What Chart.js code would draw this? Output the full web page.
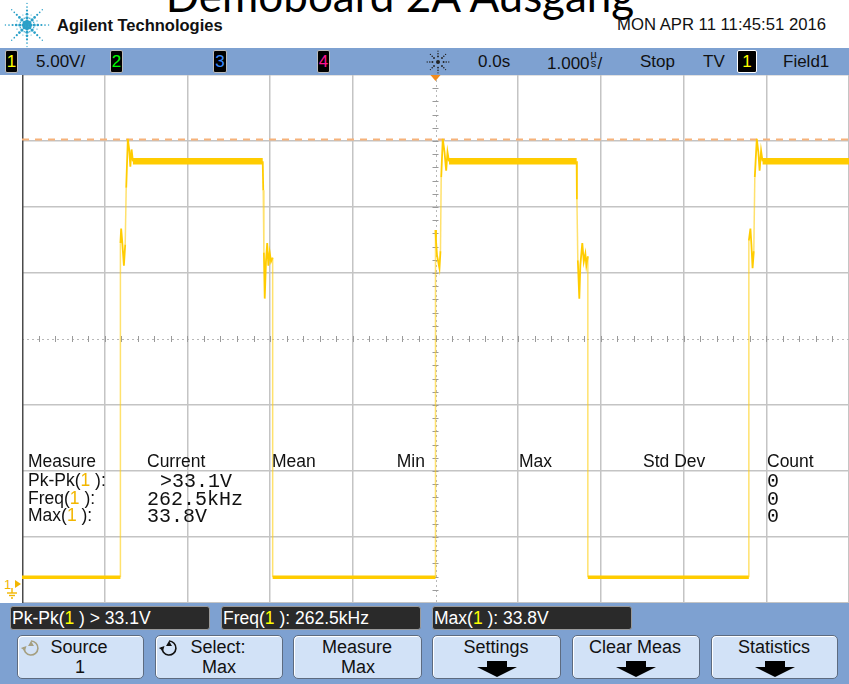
<!DOCTYPE html>
<html>
<head>
<meta charset="utf-8">
<script src="https://cdn.jsdelivr.net/npm/chart.js@4.4.1/dist/chart.umd.min.js"></script>
<style>
  html,body{margin:0;padding:0;}
  body{width:849px;height:684px;overflow:hidden;background:#fff;position:relative;font-family:'Liberation Sans',Arial,sans-serif;}
  .abs{position:absolute;}
  #plot{position:absolute;left:22px;top:75px;}
  .bar{position:absolute;left:0;width:849px;background:#7ea1d1;}
  .chbox{position:absolute;background:#000;border:1px solid #bbb;border-radius:2px;box-sizing:border-box;
         font:17px 'Liberation Sans',sans-serif;text-align:center;line-height:21px;}
  .mbox{position:absolute;top:606px;height:24px;width:200px;background:#2a2a2a;border:1px solid #9a9a9a;border-radius:3px;box-sizing:border-box;
        color:#fff;font:17.5px 'Liberation Sans',sans-serif;line-height:23px;padding-left:1px;white-space:nowrap;}
  .btn{position:absolute;top:635px;height:44px;background:#d2e2f7;border:1px solid #5d6b80;border-radius:5px;box-sizing:border-box;
       box-shadow:inset 1px 1px 0 #fff;}
</style>
</head>
<body>
<canvas id="plot" width="827" height="528"></canvas>
<script>
// ---------------- data ----------------
// channel 1 trace: time in microseconds, voltage in volts
const timeUs = [
  -5.000, -3.810, -3.810, -3.801, -3.789, -3.768, -3.752, -3.740, -3.720, -3.702, -3.690, -3.675, -3.659,
  -2.089, -2.083, -2.075, -2.065, -2.050, -2.035, -2.021, -2.005, -1.989, -1.969, -1.969,
   0.000,  0.000,  0.006,  0.018,  0.048,  0.060,  0.069,  0.088,  0.109,  0.129,  0.145,  0.163,
   1.707,  1.710,  1.721,  1.739,  1.751,  1.775,  1.793,  1.812,  1.824,  1.842,  1.842,
   3.789,  3.789,  3.808,  3.820,  3.834,  3.849,  3.861,  3.885,  3.904,  3.919,  3.937,  3.955,
   5.000
];
const voltV = [
   0.6,  0.6, 25.9, 27.0, 26.1, 24.2, 25.8, 30.1, 33.8, 32.9, 31.7, 33.0, 32.1,
  32.1, 29.9, 25.2, 21.7, 24.5, 25.9, 24.2, 25.2, 24.5, 24.8,  0.6,
   0.6, 26.9, 26.1, 25.0, 24.0, 25.3, 30.9, 33.8, 32.8, 31.4, 32.8, 32.1,
  32.1, 29.2, 24.6, 21.7, 24.2, 25.9, 24.5, 25.1, 24.2, 24.9,  0.6,
   0.6, 26.1, 27.0, 25.8, 24.0, 25.3, 30.9, 33.8, 32.8, 31.4, 32.9, 32.1,
  32.1
];
// trigger level (dashed orange line)
const trigTimeUs = [-5, 5];
const trigLevelV = [33.75, 33.75];
// graticule: 1 us/div horizontally, 5 V/div vertically (ground 3.73 div below centre)
const xGridUs = [-5, -4, -3, -2, -1, 0, 1, 2, 3, 4, 5];
const yGridV  = [-1.36, 3.64, 8.64, 13.64, 18.64, 23.64, 28.64, 33.64, 38.64];
const xCenterUs = 0;
const yCenterV = 18.64;

// measurement texts
const measHeaders = ['Measure', 'Current', 'Mean', 'Min', 'Max', 'Std Dev', 'Count'];
const measNames   = ['Pk-Pk', 'Freq', 'Max'];
const measCurrent = ['>33.1V', '262.5kHz', '33.8V'];
const measCount   = ['0', '0', '0'];
const statusTexts = ['Pk-Pk(<y>1</y> ) &gt; 33.1V', 'Freq(<y>1</y> ): 262.5kHz', 'Max(<y>1</y> ): 33.8V'];
const buttonLine1 = ['Source', 'Select:', 'Measure', 'Settings', 'Clear Meas', 'Statistics'];
const buttonLine2 = ['1', 'Max', 'Max', '', '', ''];

// ---------------- helpers ----------------
function T(html, x, y, o = {}) {
  const s = document.createElement('div');
  s.innerHTML = html;
  const tx = o.align === 'center' ? '-50%' : o.align === 'right' ? '-100%' : '0';
  s.style.cssText = `position:absolute;left:${x}px;top:${y}px;line-height:1;white-space:nowrap;` +
    `font:${o.font || "17px 'Liberation Sans',sans-serif"};color:${o.color || '#111'};` +
    `transform:translate(${tx},-50%);z-index:${o.z || 5};`;
  document.body.appendChild(s);
  return s;
}
function el(html) {
  const d = document.createElement('div');
  d.innerHTML = html;
  const n = d.firstElementChild;
  document.body.appendChild(n);
  return n;
}

// ---------------- header ----------------
el(`<div class="abs" style="left:0;width:800px;text-align:center;top:-27px;font:44px Lato,'Open Sans',sans-serif;line-height:44px;color:#000;white-space:nowrap;z-index:3">Demoboard 2A Ausgang</div>`);
T('Agilent Technologies', 57, 25, {font: "bold 16.5px 'Liberation Sans',sans-serif", color: '#111'});
T('MON APR 11 11:45:51 2016', 617, 25, {font: "16.7px 'Liberation Sans',sans-serif", color: '#111'});

// Agilent spark logo (decorative)
(function () {
  let svg = '<svg class="abs" style="left:0;top:0;z-index:4" width="56" height="52">';
  const cx = 27, cy = 25;
  for (let k = 0; k < 16; k++) {
    const a = k * Math.PI / 8;
    const main = k % 2 === 0;
    const n = main ? 6 : 3;
    for (let i = 1; i <= n; i++) {
      const r = i * 3.6;
      const rr = main ? Math.max(0.7, 2.1 - i * 0.25) : 1.0 - i * 0.15;
      svg += `<circle cx="${(cx + r * Math.cos(a)).toFixed(1)}" cy="${(cy + r * Math.sin(a)).toFixed(1)}" r="${rr.toFixed(2)}" fill="#2aa0c8"/>`;
    }
  }
  svg += `<circle cx="${cx}" cy="${cy}" r="2.2" fill="#2aa0c8"/></svg>`;
  el(svg);
})();

// ---------------- top status bar ----------------
el('<div class="bar" style="top:48px;height:27px;"></div>');
el('<div class="chbox" style="left:5px;top:50px;width:13px;height:23px;color:#ffff00">1</div>');
el('<div class="chbox" style="left:110px;top:50px;width:13px;height:23px;color:#00ff00">2</div>');
el('<div class="chbox" style="left:213px;top:50px;width:14px;height:23px;color:#3a8cff">3</div>');
el('<div class="chbox" style="left:317px;top:50px;width:13px;height:23px;color:#ff1493">4</div>');
el('<div class="chbox" style="left:737px;top:50px;width:20px;height:23px;color:#ffff00;border:1px solid #fff">1</div>');
T('5.00V/', 36, 62);
T('0.0s', 478, 62);
T('1.000<span style="font-size:11px;display:inline-block;line-height:9px;vertical-align:2px;width:8px;text-align:center">µ<br>s</span>/', 547, 62);
T('Stop', 640, 62);
T('TV', 703, 62);
T('Field1', 783, 62);
// acquisition spark icon
(function () {
  let svg = '<svg class="abs" style="left:425px;top:49px;z-index:4" width="26" height="26">';
  for (let k = 0; k < 8; k++) {
    const a = k * Math.PI / 4;
    for (let i = 1; i <= 3; i++) {
      const r = 3 + i * 2.6;
      svg += `<circle cx="${(13 + r * Math.cos(a)).toFixed(1)}" cy="${(13 + r * Math.sin(a)).toFixed(1)}" r="${(1.1 - i * 0.15).toFixed(2)}" fill="#222"/>`;
    }
  }
  svg += '<circle cx="13" cy="13" r="2" fill="#222"/></svg>';
  el(svg);
})();

// ---------------- measurement table overlay ----------------
const hdrX = [28, 147, 272, 425, 519, 643, 767];
measHeaders.forEach((h, i) => T(h, hdrX[i], 461, {font: "17.5px 'Liberation Sans',sans-serif", align: i === 3 ? 'right' : 'left'}));
const rowY = [480, 498, 515];
measNames.forEach((n, i) => T(`${n}(<span style="color:#f2b600">1</span> ):`, 28, rowY[i], {font: "17.5px 'Liberation Sans',sans-serif"}));
const curX = [160, 147, 147];
measCurrent.forEach((v, i) => T(v, curX[i], rowY[i] + 1, {font: "20px 'Liberation Mono','DejaVu Sans Mono',monospace"}));
measCount.forEach((v, i) => T(v, 767, rowY[i] + 1, {font: "20px 'Liberation Mono','DejaVu Sans Mono',monospace"}));

// ground marker
T('1', 4, 584, {font: "13px 'Liberation Sans',sans-serif", color: '#f2b600'});
el('<svg class="abs" style="left:2px;top:576px;z-index:4" width="20" height="26"><polygon points="13,4 19,8 13,12" fill="#f2b600"/><line x1="10" y1="12" x2="10" y2="17" stroke="#f2b600" stroke-width="1.4"/><line x1="5" y1="17" x2="15" y2="17" stroke="#f2b600" stroke-width="1.4"/><line x1="7" y1="19.5" x2="13" y2="19.5" stroke="#f2b600" stroke-width="1.4"/><line x1="9" y1="22" x2="11" y2="22" stroke="#f2b600" stroke-width="1.4"/></svg>');

// ---------------- bottom bar ----------------
el('<div class="bar" style="top:603px;height:81px;"></div>');
const mboxX = [10, 221, 432];
statusTexts.forEach((t, i) => el(`<div class="mbox" style="left:${mboxX[i]}px">${t.replace(/<y>/g, '<span style="color:#ffff00">').replace(/<\/y>/g, '</span>')}</div>`));
const btnX = [17, 155, 293, 432, 572, 711];
const btnW = [127, 128, 129, 129, 128, 127];
const txtCX = [79, 218, 357, 496, 635, 774];
buttonLine1.forEach((t, i) => {
  el(`<div class="btn" style="left:${btnX[i]}px;width:${btnW[i]}px"></div>`);
  T(t, txtCX[i], 647, {font: "18px 'Liberation Sans',sans-serif", align: 'center', z: 6});
  if (buttonLine2[i]) {
    T(buttonLine2[i], txtCX[i] + 1, 667, {font: "18px 'Liberation Sans',sans-serif", align: 'center', z: 6});
  } else {
    const cx = txtCX[i] + 1;
    el(`<svg class="abs" style="left:${cx - 21}px;top:660px;z-index:6" width="42" height="18"><polygon points="11,1 31,1 31,7 41,7 21,17 1,7 11,7" fill="#000"/></svg>`);
  }
});
// knob icons on Source / Select
function knob(x, color) {
  el(`<svg class="abs" style="left:${x}px;top:638px;z-index:6" width="22" height="20"><path d="M4 9 A7 7 0 1 0 11 3" fill="none" stroke="${color}" stroke-width="1.6"/><polygon points="1,9 7,9 4,13" fill="${color}" transform="rotate(-20 4 10)"/><polygon points="8,8 14,8 11,3" fill="${color}"/></svg>`);
}
knob(20, '#a59f80');
knob(158, '#111');

// ---------------- chart ----------------
const tracePts = timeUs.map((t, i) => ({x: t, y: voltV[i]}));
const trigPts = trigTimeUs.map((t, i) => ({x: t, y: trigLevelV[i]}));

const BRIGHT = '#ffcc00';
const EDGE = 'rgba(255,206,20,0.62)';
function segKind(ctx) {
  const a = ctx.p0.parsed, b = ctx.p1.parsed;
  if (a.y === b.y && a.y > 30) return 'plateau';
  if (a.y === b.y && a.y < 2) return 'low';
  if (Math.abs(b.y - a.y) > 4) return 'edge';
  return 'ring';
}

const decor = {
  id: 'decor',
  beforeDatasetsDraw(chart) {
    const {ctx, chartArea: ca, scales: {x, y}} = chart;
    const xc = x.getPixelForValue(xCenterUs), yc = y.getPixelForValue(yCenterV);
    ctx.save();
    ctx.strokeStyle = '#b8b8b8';
    ctx.lineWidth = 1;
    ctx.setLineDash([2, 3]);
    ctx.beginPath();
    ctx.moveTo(ca.left, Math.round(yc) + 0.5); ctx.lineTo(ca.right, Math.round(yc) + 0.5);
    ctx.moveTo(Math.round(xc) + 0.5, ca.top); ctx.lineTo(Math.round(xc) + 0.5, ca.bottom);
    ctx.stroke();
    ctx.setLineDash([]);
    ctx.strokeStyle = '#9a9a9a';
    ctx.beginPath();
    for (let v = xGridUs[0]; v <= xGridUs[xGridUs.length - 1] + 1e-9; v += 0.2) {
      const px = Math.round(x.getPixelForValue(v)) + 0.5;
      ctx.moveTo(px, yc - 3); ctx.lineTo(px, yc + 3);
    }
    for (let v = yGridV[0]; v <= yGridV[yGridV.length - 1] + 1e-9; v += 1) {
      const py = Math.round(y.getPixelForValue(v)) + 0.5;
      ctx.moveTo(xc - 3, py); ctx.lineTo(xc + 3, py);
    }
    ctx.stroke();
    ctx.strokeStyle = '#4a4a4a';
    ctx.lineWidth = 1.5;
    ctx.beginPath();
    ctx.moveTo(ca.left + 0.75, ca.top); ctx.lineTo(ca.left + 0.75, ca.bottom);
    ctx.stroke();
    ctx.restore();
  },
  afterDraw(chart) {
    const {ctx, chartArea: ca, scales: {x}} = chart;
    const xt = x.getPixelForValue(0);
    ctx.save();
    ctx.fillStyle = '#f28c1e';
    ctx.beginPath();
    ctx.moveTo(xt - 5, ca.top); ctx.lineTo(xt + 5, ca.top); ctx.lineTo(xt, ca.top + 6);
    ctx.closePath(); ctx.fill();
    ctx.restore();
  }
};

new Chart(document.getElementById('plot'), {
  type: 'line',
  data: {
    datasets: [
      {
        label: 'CH1',
        data: tracePts,
        order: 0,
        borderColor: BRIGHT,
        borderWidth: 2,
        pointRadius: 0,
        tension: 0,
        borderJoinStyle: 'miter',
        borderCapStyle: 'butt',
        segment: {
          borderWidth: ctx => ({plateau: 6.5, low: 3.5, edge: 1.5, ring: 1.8})[segKind(ctx)],
          borderColor: ctx => segKind(ctx) === 'edge' ? EDGE : BRIGHT
        }
      },
      {
        label: 'Trigger level',
        data: trigPts,
        order: 1,
        borderColor: '#f6b27a',
        borderWidth: 2,
        borderDash: [7, 6],
        pointRadius: 0
      }
    ]
  },
  options: {
    responsive: false,
    animation: false,
    events: [],
    layout: {padding: 0},
    plugins: {legend: {display: false}, tooltip: {enabled: false}, title: {display: false}},
    scales: {
      x: {
        type: 'linear', min: xGridUs[0], max: xGridUs[xGridUs.length - 1],
        afterBuildTicks: s => { s.ticks = xGridUs.map(v => ({value: v})); },
        ticks: {display: false},
        border: {display: false},
        grid: {
          drawTicks: false, lineWidth: 1.5,
          color: c => (c.tick && Math.abs(c.tick.value - xCenterUs) < 1e-6) || c.index === 0 ? 'rgba(0,0,0,0)' : '#c4c4c4'
        }
      },
      y: {
        type: 'linear', min: yGridV[0], max: yGridV[yGridV.length - 1],
        afterBuildTicks: s => { s.ticks = yGridV.map(v => ({value: v})); },
        ticks: {display: false},
        border: {display: false},
        grid: {
          drawTicks: false, lineWidth: 1.5,
          color: c => (c.tick && Math.abs(c.tick.value - yCenterV) < 1e-6) ? 'rgba(0,0,0,0)' : '#c4c4c4'
        }
      }
    }
  },
  plugins: [decor]
});
</script>
</body>
</html>
